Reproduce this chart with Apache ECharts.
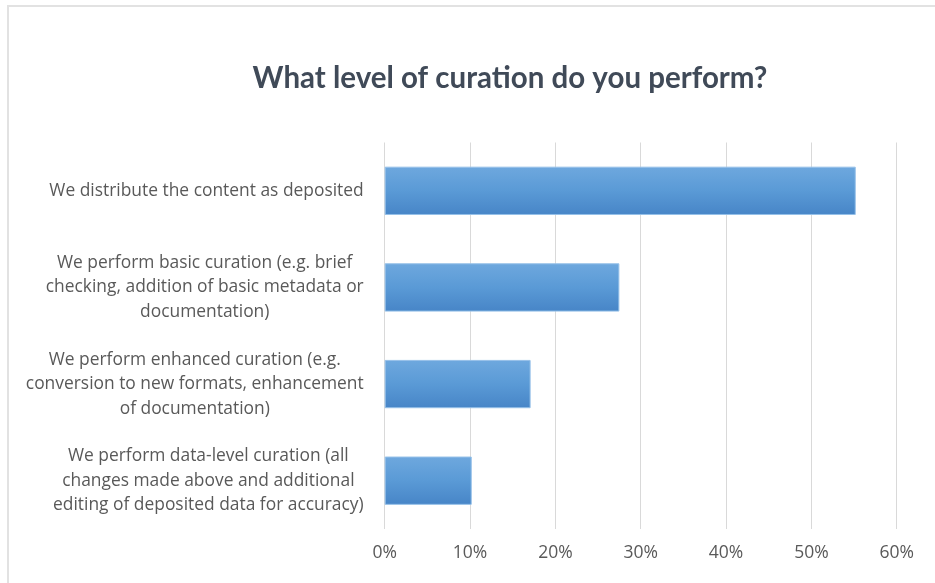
<!DOCTYPE html>
<html>
<head>
<meta charset="utf-8">
<script src="https://cdn.jsdelivr.net/npm/echarts@6/dist/echarts.min.js"></script>
<style>
  html, body { margin: 0; padding: 0; background: #ffffff; }
  #chart { width: 935px; height: 583px; }
</style>
</head>
<body>
<div id="chart"></div>
<script>
// Survey answers, top to bottom
const categories = [
  'We distribute the content as deposited',
  'We perform basic curation (e.g. brief\nchecking, addition of basic metadata or\ndocumentation)',
  'We perform enhanced curation (e.g.\nconversion to new formats, enhancement\nof documentation)',
  'We perform data-level curation (all\nchanges made above and additional\nediting of deposited data for accuracy)'
];
// Share of respondents, in percent
const shares = [55.2, 27.5, 17.1, 10.2];
// Value axis ticks
const tickMin = 0;
const tickMax = 60;
const tickStep = 10;

const chart = echarts.init(document.getElementById('chart'), null, { renderer: 'canvas' });

chart.setOption({
  backgroundColor: '#ffffff',
  animation: false,
  title: {
    text: 'What level of curation do you perform?',
    left: 505,
    top: 58,
    textAlign: 'center',
    textStyle: {
      fontFamily: 'Lato',
      fontWeight: 'bold',
      fontSize: 29.5,
      color: '#404a58'
    }
  },
  graphic: [{
    type: 'rect',
    shape: { x: 8, y: 6, width: 1200, height: 1200 },
    style: { fill: 'none', stroke: '#e2e2e2', lineWidth: 2 },
    silent: true,
    z: -1
  }],
  grid: {
    left: 384.7,
    right: 38.3,
    top: 142.5,
    bottom: 54
  },
  xAxis: {
    type: 'value',
    min: tickMin,
    max: tickMax,
    interval: tickStep,
    axisLine: { show: false },
    axisTick: { show: false },
    splitLine: { lineStyle: { color: '#d9d9d9', width: 1 } },
    axisLabel: {
      formatter: '{value}%',
      color: '#595959',
      fontFamily: 'Open Sans',
      fontSize: 17.5,
      margin: 15
    }
  },
  yAxis: {
    type: 'category',
    inverse: true,
    data: categories,
    axisLine: { show: false },
    axisTick: { show: false },
    splitLine: { show: false },
    axisLabel: {
      margin: 21,
      formatter: function (v) { return '{c|' + v + '}'; },
      rich: {
        c: {
          align: 'center',
          color: '#595959',
          fontFamily: 'Open Sans',
          fontSize: 17.4,
          lineHeight: 24.5
        }
      }
    }
  },
  series: [{
    type: 'bar',
    data: shares,
    barCategoryGap: '50%',
    itemStyle: {
      color: new echarts.graphic.LinearGradient(0, 0, 0, 1, [
        { offset: 0, color: '#6ea8de' },
        { offset: 0.5, color: '#5a9ad6' },
        { offset: 1, color: '#4785c7' }
      ]),
      borderColor: '#95c0e8',
      borderWidth: 1
    }
  }]
});
</script>
</body>
</html>
